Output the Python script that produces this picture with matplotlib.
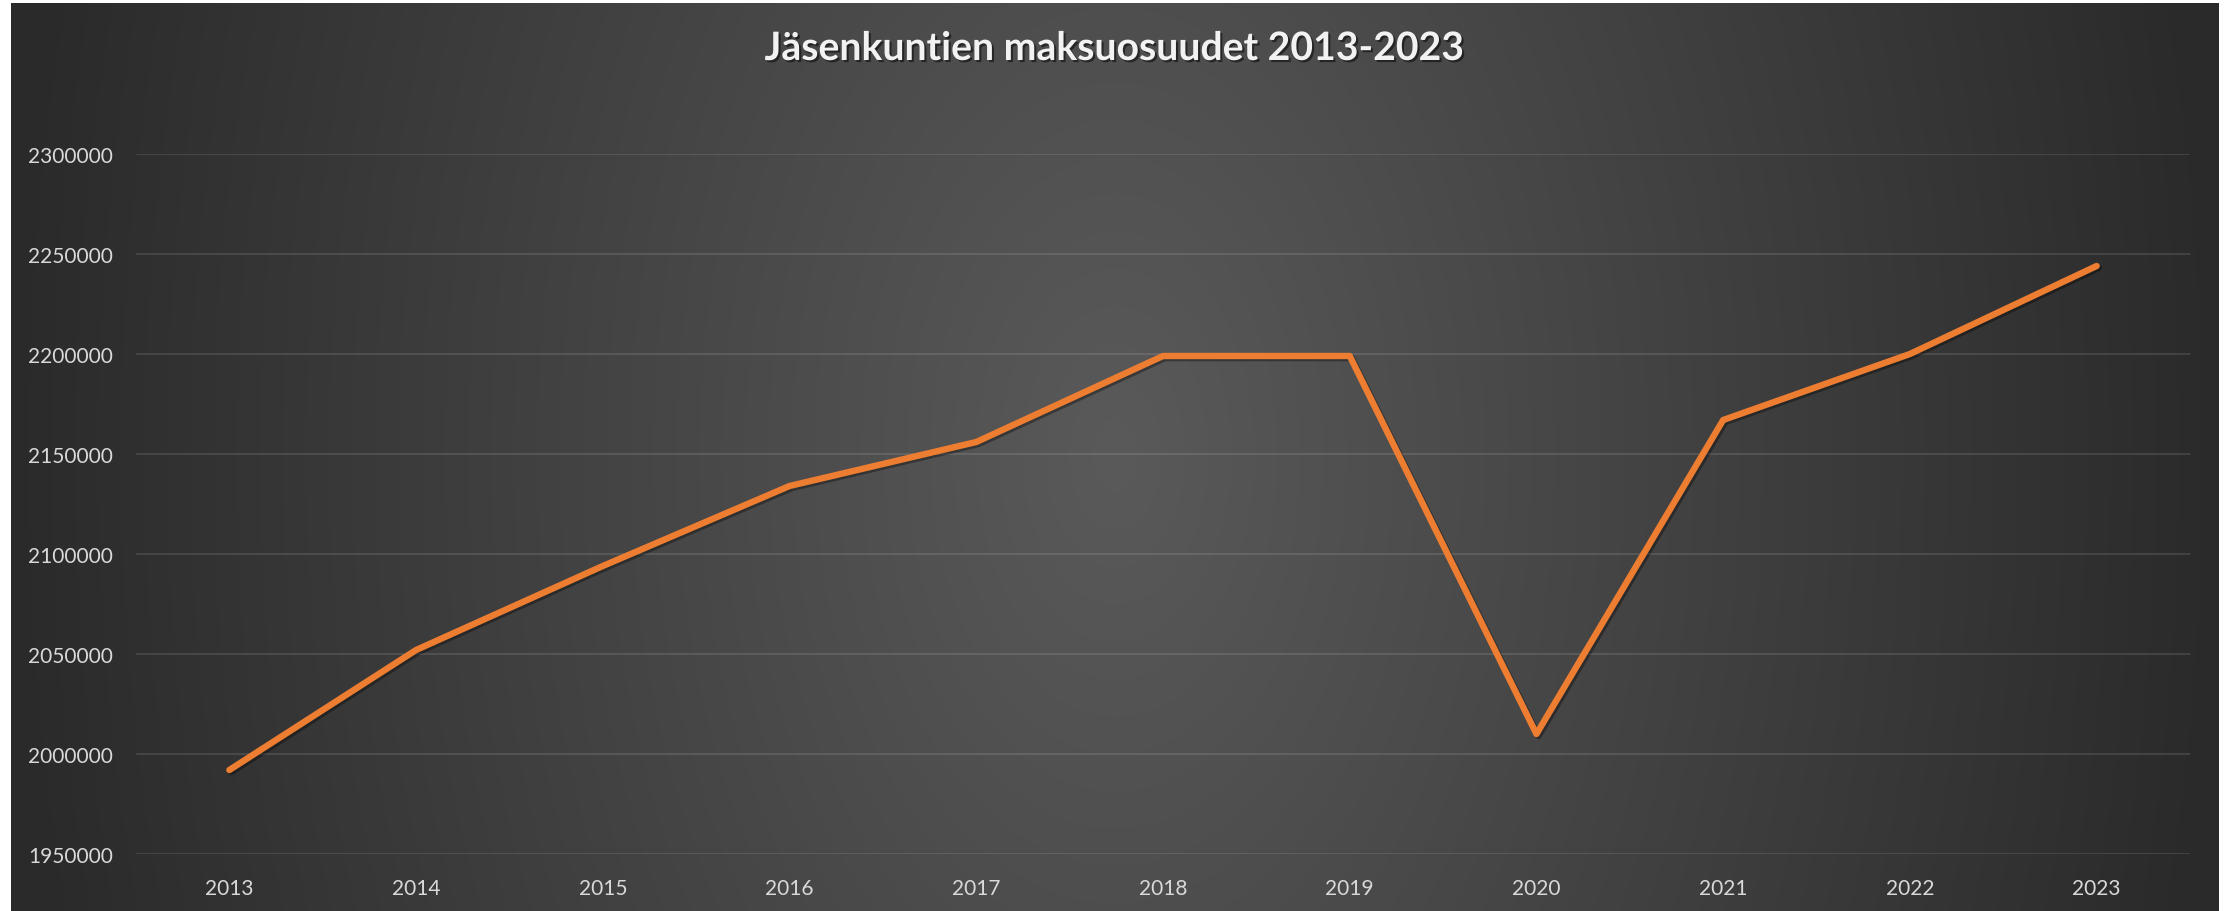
import numpy as np
import matplotlib
matplotlib.use("Agg")
import matplotlib.pyplot as plt
import matplotlib.patheffects as pe

# ---- data ----
years = ["2013", "2014", "2015", "2016", "2017", "2018", "2019", "2020", "2021", "2022", "2023"]
values = [1992000, 2052000, 2094000, 2134000, 2156000, 2199000, 2199000, 2010000, 2167000, 2200000, 2244000]
yticks = [1950000, 2000000, 2050000, 2100000, 2150000, 2200000, 2250000, 2300000]
title = "Jäsenkuntien maksuosuudet 2013-2023"

FONT = ["Lato", "DejaVu Sans"]
W, H = 2231, 912
DPI = 100
fig = plt.figure(figsize=(W / DPI, H / DPI), dpi=DPI, facecolor="white")

# ---- background (radial gradient) ----
bx0, bx1, by0, by1 = 11, 2219, 4, 912
bg = fig.add_axes([bx0 / W, 1 - by1 / H, (bx1 - bx0) / W, (by1 - by0) / H])
bw, bh = bx1 - bx0, by1 - by0
xx, yy = np.meshgrid(np.arange(bw), np.arange(bh))
cx, cy = 1115 - bx0, 456 - by0
r = np.sqrt(((xx - cx) / 1110.0) ** 2 + ((yy - cy) / 1790.0) ** 2)
r = np.clip(r, 0, 1)
c0, c1 = 90 / 255, 42 / 255
val = c0 + (c1 - c0) * r
img = np.dstack([val, val, val])
bg.imshow(img, aspect="auto", interpolation="bilinear")
bg.set_axis_off()

# ---- main axes ----
left, right = 136, 2190
top_px, bot_px = 155, 855
ax = fig.add_axes([left / W, 1 - bot_px / H, (right - left) / W, (bot_px - top_px) / H])
ax.patch.set_alpha(0)

x = np.arange(len(years))
line, = ax.plot(x, values, color="#ED7D31", linewidth=4.6, solid_capstyle="round",
                solid_joinstyle="round", zorder=3)
line.set_path_effects([pe.SimpleLineShadow(offset=(1.5, -1.5), shadow_color="black", alpha=0.35),
                       pe.Normal()])

ax.set_xlim(-0.5, len(years) - 0.5)
ax.set_ylim(yticks[0], yticks[-1])
ax.set_yticks(yticks)
ax.set_yticklabels([str(v) for v in yticks])
ax.set_xticks(x)
ax.set_xticklabels(years)

for s in ax.spines.values():
    s.set_visible(False)
ax.grid(axis="y", color="white", alpha=0.12, linewidth=1.3)
ax.set_axisbelow(True)
ax.tick_params(axis="both", length=0, labelsize=15, labelcolor="#d9d9d9")
ax.tick_params(axis="y", pad=16.5)
ax.tick_params(axis="x", pad=17)
for lab in ax.get_xticklabels() + ax.get_yticklabels():
    lab.set_family(FONT)

# ---- title ----
t = fig.text(1114 / W, 1 - 61 / H, title, ha="center", va="baseline",
             fontsize=26, fontweight="bold", color="#f2f2f2", family=FONT)
fig.canvas.draw()
ext = t.get_window_extent()
t.set_fontsize(26 * 699.0 / ext.width)
t.set_path_effects([pe.SimplePatchShadow(offset=(1.5, -1.5), shadow_rgbFace="black", alpha=0.5),
                    pe.Normal()])

fig.savefig("out.png", dpi=DPI, facecolor="white")
